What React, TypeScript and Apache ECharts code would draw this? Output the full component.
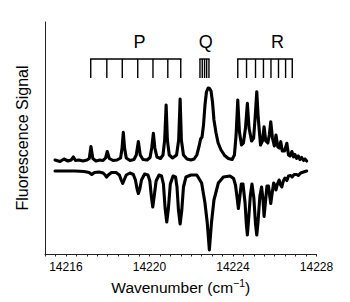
import React, { useEffect, useRef } from 'react';
import * as echarts from 'echarts';

// ---- data ----
const xMin = 14215;
const xMax = 14228;
const tickLabels = [14216, 14220, 14224, 14228];

// Experimental fluorescence trace (upper), wavenumber / signal (arb. units)
const upperWavenumber = [
  14215.48, 14215.72, 14215.91, 14216.10, 14216.25, 14216.36, 14216.46, 14216.63, 14216.82, 14217.01,
  14217.12, 14217.20, 14217.29, 14217.44, 14217.63, 14217.78, 14217.90, 14217.98, 14218.08, 14218.26,
  14218.45, 14218.62, 14218.69, 14218.75, 14218.81, 14218.89, 14219.07, 14219.26, 14219.37, 14219.47,
  14219.56, 14219.69, 14219.89, 14220.03, 14220.11, 14220.19, 14220.26, 14220.36, 14220.53, 14220.65,
  14220.73, 14220.80, 14220.86, 14220.95, 14221.11, 14221.30, 14221.40, 14221.47, 14221.53, 14221.63,
  14221.80, 14221.99, 14222.14, 14222.27, 14222.38, 14222.45, 14222.52, 14222.59, 14222.66, 14222.73,
  14222.81, 14222.88, 14222.95, 14223.02, 14223.09, 14223.19, 14223.29, 14223.43, 14223.60, 14223.78,
  14223.96, 14224.07, 14224.15, 14224.23, 14224.31, 14224.41, 14224.50, 14224.60, 14224.69, 14224.77,
  14224.89, 14224.99, 14225.07, 14225.14, 14225.21, 14225.32, 14225.41, 14225.49, 14225.57, 14225.67,
  14225.74, 14225.81, 14225.89, 14225.98, 14226.06, 14226.15, 14226.22, 14226.29, 14226.36, 14226.47,
  14226.58, 14226.66, 14226.73, 14226.82, 14226.90, 14226.97, 14227.05, 14227.13, 14227.21, 14227.29,
  14227.38, 14227.45, 14227.53,
];
const upperSignal = [
  94, 92.5, 95, 93, 94, 97, 93.5, 94, 93, 94,
  95.5, 107.5, 95.5, 93, 94, 93.5, 96, 102.5, 95.5, 93.5,
  94, 96, 106, 121.7, 106, 96, 93.5, 94.5, 99, 112.5,
  99, 94.5, 94, 96.5, 106, 120.7, 106, 97, 95.5, 99,
  114, 149, 114, 99, 96, 99, 114, 155, 114, 99,
  95, 94, 95, 99, 108, 115, 117, 129, 149, 162,
  166, 165.5, 163, 152, 134, 121, 111, 104, 98.5, 95.5,
  94.5, 99, 119, 154, 122, 109, 111, 126, 150.7, 126,
  113, 116, 139, 162.3, 136, 109, 113, 127.3, 113, 111,
  119, 132.3, 116, 108, 119, 107, 106, 112.3, 103, 103,
  110.7, 99, 98, 102.5, 97, 99.5, 95.5, 98, 94.5, 96.5,
  93.5, 95, 93,
];

// Simulated spectrum (lower, inverted)
const lowerWavenumber = [
  14215.48, 14215.96, 14216.44, 14216.87, 14217.11, 14217.24, 14217.37, 14217.59, 14217.78, 14217.88,
  14217.95, 14218.03, 14218.18, 14218.40, 14218.56, 14218.65, 14218.72, 14218.79, 14218.89, 14219.07,
  14219.23, 14219.33, 14219.41, 14219.47, 14219.54, 14219.62, 14219.77, 14219.93, 14220.02, 14220.09,
  14220.16, 14220.23, 14220.32, 14220.46, 14220.58, 14220.67, 14220.75, 14220.83, 14220.91, 14221.00,
  14221.13, 14221.25, 14221.32, 14221.39, 14221.47, 14221.55, 14221.63, 14221.75, 14221.99, 14222.27,
  14222.50, 14222.66, 14222.77, 14222.87, 14222.97, 14223.09, 14223.30, 14223.54, 14223.86, 14224.03,
  14224.12, 14224.20, 14224.26, 14224.32, 14224.40, 14224.48, 14224.58, 14224.64, 14224.69, 14224.74,
  14224.83, 14224.91, 14225.00, 14225.08, 14225.14, 14225.20, 14225.29, 14225.37, 14225.44, 14225.49,
  14225.55, 14225.63, 14225.70, 14225.76, 14225.81, 14225.87, 14225.95, 14226.02, 14226.06, 14226.13,
  14226.21, 14226.28, 14226.34, 14226.41, 14226.49, 14226.58, 14226.66, 14226.76, 14226.83, 14226.93,
  14227.05, 14227.13, 14227.24, 14227.38, 14227.53,
];
const lowerSignal = [
  83, 83, 83, 82.5, 81.5, 79.5, 81.5, 82, 81, 79,
  77, 79, 81.5, 81.5, 79, 74, 70.5, 74, 79, 81,
  79.5, 74, 65, 60.5, 65, 74, 80, 79, 73, 58,
  47, 58, 73, 79, 78, 70, 46, 32, 46, 70,
  78, 77, 67, 44, 30, 44, 67, 77, 79, 79,
  71, 51, 31, 4, 31, 54, 71, 77, 78, 75.5,
  69, 56, 45.5, 56, 70, 70, 51, 30, 19, 32,
  58, 70, 56, 30, 19, 32, 58, 67, 54, 37.5,
  51, 68, 68, 58, 50.5, 60, 71, 68, 64, 70,
  74, 69, 67, 73, 76, 73.5, 78, 78.5, 77, 79.5,
  79.5, 78.5, 81, 82, 83,
];

// Rotational branch assignments (line positions, cm^-1)
const branchNames = ['P', 'Q', 'R'];
const branchLabelWavenumber = [14219.52, 14222.7, 14226.13];
const pBranchLines = [14217.19, 14217.96, 14218.7, 14219.44, 14220.17, 14220.88, 14221.5];
const qBranchLines = [14222.42, 14222.53, 14222.64, 14222.74, 14222.85];
const rBranchLines = [14224.23, 14224.65, 14225.08, 14225.46, 14225.82, 14226.18, 14226.52, 14226.84];

// ---- layout / style ----
const FONT = "'Liberation Sans', Arial, Helvetica, sans-serif";
const Y_MAX = 232;
const COMB_TOP = 195;
const COMB_BOTTOM = 176;
const LABEL_Y = 212.3;

export default function App() {
  const ref = useRef<HTMLDivElement>(null);

  useEffect(() => {
    document.body.style.margin = '0';
    const chart = echarts.init(ref.current!, null, { renderer: 'svg' });
    const branches = [pBranchLines, qBranchLines, rBranchLines];
    const allLines = branches.flat();

    chart.setOption({
      animation: false,
      grid: { left: 45, right: 33.5, top: 22, bottom: 48 },
      xAxis: {
        type: 'value',
        min: xMin,
        max: xMax,
        interval: 0.5,
        axisLine: { show: true, lineStyle: { color: '#222', width: 1 } },
        axisTick: { show: true, inside: false, length: 2.5, lineStyle: { color: '#222', width: 1 } },
        splitLine: { show: false },
        axisLabel: {
          interval: 0,
          margin: 7,
          fontSize: 12,
          color: '#000',
          fontFamily: FONT,
          formatter: (v: number) =>
            tickLabels.some((t) => Math.abs(t - v) < 1e-6) ? String(Math.round(v)) : '',
        },
        name: '{a|Wavenumber (cm}{s|−1}{a|)}',
        nameLocation: 'middle',
        nameGap: 21,
        nameTextStyle: {
          rich: {
            a: { fontSize: 15.5, fontFamily: FONT, color: '#000', lineHeight: 20 },
            s: { fontSize: 10.5, fontFamily: FONT, color: '#000', lineHeight: 11, verticalAlign: 'top' },
          },
        },
      },
      yAxis: {
        type: 'value',
        min: 0,
        max: Y_MAX,
        axisLine: { show: true, lineStyle: { color: '#222', width: 1 } },
        axisTick: { show: false },
        axisLabel: { show: false },
        splitLine: { show: false },
        name: 'Fluorescence Signal',
        nameLocation: 'middle',
        nameGap: 15,
        nameTextStyle: { fontSize: 16, fontFamily: FONT, color: '#000' },
      },
      series: [
        {
          type: 'line',
          data: upperWavenumber.map((x, i) => [x, upperSignal[i]]),
          showSymbol: false,
          symbol: 'none',
          lineStyle: { color: '#000', width: 3.1, join: 'round', cap: 'round' },
          silent: true,
        },
        {
          type: 'line',
          data: lowerWavenumber.map((x, i) => [x, lowerSignal[i]]),
          showSymbol: false,
          symbol: 'none',
          lineStyle: { color: '#000', width: 3.1, join: 'round', cap: 'round' },
          silent: true,
        },
        {
          type: 'custom',
          silent: true,
          data: allLines.map((x) => [x, COMB_TOP]),
          encode: { x: 0, y: 1 },
          renderItem: (params: any, api: any) => {
            const x = api.value(0);
            const a = api.coord([x, COMB_TOP]);
            const b = api.coord([x, COMB_BOTTOM]);
            return {
              type: 'line',
              shape: { x1: a[0], y1: a[1], x2: b[0], y2: b[1] },
              style: { stroke: '#000', lineWidth: 1.4 },
            };
          },
        },
        {
          type: 'custom',
          silent: true,
          data: branches.map((b) => [Math.min(...b), Math.max(...b), COMB_TOP]),
          encode: { x: [0, 1], y: 2 },
          renderItem: (params: any, api: any) => {
            const a = api.coord([api.value(0), api.value(2)]);
            const b = api.coord([api.value(1), api.value(2)]);
            return {
              type: 'line',
              shape: { x1: a[0] - 0.7, y1: a[1], x2: b[0] + 0.7, y2: b[1] },
              style: { stroke: '#000', lineWidth: 1.4 },
            };
          },
        },
        {
          type: 'custom',
          silent: true,
          data: branchLabelWavenumber.map((x, i) => [x, LABEL_Y, i]),
          encode: { x: 0, y: 1 },
          renderItem: (params: any, api: any) => {
            const p = api.coord([api.value(0), api.value(1)]);
            return {
              type: 'text',
              x: p[0],
              y: p[1],
              style: {
                text: branchNames[api.value(2)],
                fontSize: 18,
                fontFamily: FONT,
                fill: '#000',
                align: 'center',
                verticalAlign: 'middle',
              },
            };
          },
        },
      ],
    });

    return () => chart.dispose();
  }, []);

  return <div ref={ref} style={{ width: 350, height: 302 }} />;
}
